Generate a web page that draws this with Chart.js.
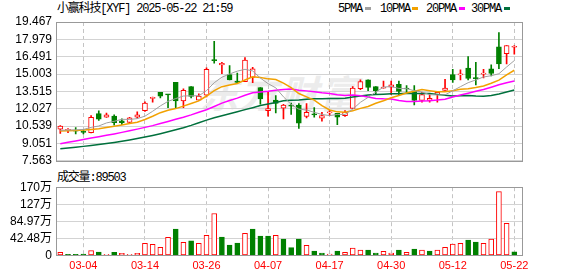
<!DOCTYPE html>
<html>
<head>
<meta charset="utf-8">
<script src="https://cdn.jsdelivr.net/npm/chart.js@4.4.1/dist/chart.umd.min.js"></script>
<style>
body { margin: 0; width: 578px; height: 276px; background: #fff; position: relative; overflow: hidden; }
canvas { position: absolute; left: 0; }
.txt { position: absolute; font: 12px 'Liberation Mono', 'Noto Sans CJK SC', monospace; letter-spacing: -1.2px; color: #000; white-space: nowrap; line-height: 14px; }
.dash { position: absolute; width: 6px; height: 3px; top: 7px; }
#mark { position: absolute; left: 200px; top: 64px; font: italic bold 38px 'Noto Sans CJK SC'; color: #ececec; letter-spacing: 2px; white-space: nowrap; }
</style>
</head>
<body>
<div id="mark">东方财富</div>
<div class="txt" style="left:57px;top:2px">小赢科技[XYF] 2025-05-22 21:59</div>
<div class="txt" style="left:338px;top:2px">5PMA</div><div class="dash" style="left:365px;background:#a0a0a0"></div>
<div class="txt" style="left:380px;top:2px">10PMA</div><div class="dash" style="left:412px;background:#f2a100"></div>
<div class="txt" style="left:426px;top:2px">20PMA</div><div class="dash" style="left:459px;background:#ff00ff"></div>
<div class="txt" style="left:471px;top:2px">30PMA</div><div class="dash" style="left:504px;background:#00703c"></div>
<div class="txt" style="left:57px;top:171px">成交量:89503</div>
<canvas id="price" width="578" height="172" style="top:0"></canvas>
<canvas id="vol" width="578" height="100" style="top:176px"></canvas>
<script>
// trading days (MM-DD)
var dates = ['02-27','02-28','03-03','03-04','03-05','03-06','03-07','03-10','03-11','03-12',
  '03-13','03-14','03-17','03-18','03-19','03-20','03-21','03-24','03-25','03-26',
  '03-27','03-28','03-31','04-01','04-02','04-03','04-04','04-07','04-08','04-09',
  '04-10','04-11','04-14','04-15','04-16','04-17','04-21','04-22','04-23','04-24',
  '04-25','04-28','04-29','04-30','05-01','05-02','05-05','05-06','05-07','05-08',
  '05-09','05-12','05-13','05-14','05-15','05-16','05-19','05-20','05-21','05-22'];

var openP = [10.28,10.18,10.12,10.03,9.97,11.61,11.30,11.39,11.00,10.86,
  11.30,11.86,12.92,13.43,13.24,14.29,12.69,13.93,12.77,13.19,
  16.22,15.79,14.96,14.40,14.35,14.71,13.85,11.86,12.77,12.08,
  12.30,12.35,11.36,11.56,11.22,11.68,11.63,11.44,12.05,13.74,
  14.51,13.93,13.79,13.88,14.13,13.75,13.57,12.74,12.74,13.24,
  13.60,14.96,14.93,15.51,14.70,15.00,15.46,17.34,16.76,17.30];
var highP = [10.58,10.33,10.42,10.20,11.44,11.85,11.66,11.50,11.16,11.30,
  11.77,12.63,13.02,13.43,13.26,14.29,13.74,13.93,13.30,15.54,
  17.81,16.01,15.73,15.09,16.42,15.59,13.85,13.46,13.16,12.40,
  12.52,12.47,12.47,12.13,11.72,11.90,11.63,11.86,13.93,14.51,
  14.51,13.93,14.40,14.40,14.40,14.02,14.02,13.43,13.24,13.43,
  14.54,15.40,15.37,16.51,16.01,15.40,15.79,18.56,17.45,17.45];
var lowP = [9.92,9.97,9.86,9.86,9.95,11.03,11.28,10.61,10.67,10.75,
  11.22,11.80,12.60,12.96,12.13,12.05,12.13,12.96,12.77,13.05,
  15.93,15.04,14.49,14.27,14.35,14.27,12.41,11.39,11.66,11.16,
  11.53,10.33,11.25,11.30,10.97,11.44,10.67,11.36,12.05,13.66,
  13.57,13.24,13.79,13.24,13.24,13.43,12.35,12.60,12.60,12.60,
  13.60,14.29,14.49,14.49,14.07,14.68,14.85,15.46,15.87,16.70];
var closeP = [10.53,10.22,10.10,10.00,11.30,11.14,11.50,10.83,10.84,11.25,
  11.50,12.52,12.97,13.10,13.22,12.69,13.60,13.08,13.12,15.40,
  16.16,15.93,14.49,14.29,16.20,15.46,12.88,12.05,12.49,12.35,
  12.25,10.80,11.72,11.50,11.44,11.72,11.30,11.72,13.79,14.35,
  13.85,13.57,13.85,14.07,13.52,13.72,12.74,13.24,12.91,13.43,
  13.79,14.49,14.98,14.63,14.60,15.02,15.05,15.87,17.45,17.36];
var volume = [75000,25000,25000,33000,116000,83000,25000,75000,50000,25000,
  50000,298000,273000,199000,447000,654000,323000,364000,298000,497000,
  1043000,455000,257000,306000,547000,654000,480000,480000,497000,406000,
  190000,406000,248000,108000,58000,33000,108000,75000,182000,133000,
  133000,58000,99000,58000,133000,75000,157000,133000,108000,133000,
  199000,282000,298000,381000,331000,298000,406000,1590000,795000,89503];

var ma5 = [10.18,10.20,10.22,10.25,10.43,10.55,10.81,10.95,11.12,11.11,
  11.18,11.39,11.81,12.27,12.66,12.90,13.12,13.14,13.14,13.58,
  14.26,14.73,15.01,15.25,15.41,15.27,14.66,14.18,13.82,13.05,
  12.40,11.99,11.92,11.72,11.54,11.44,11.54,11.54,11.99,12.58,
  13.00,13.46,13.88,13.94,13.77,13.75,13.58,13.46,13.23,13.21,
  13.22,13.57,13.92,14.26,14.50,14.75,14.86,15.03,15.61,16.16];
var ma10 = [10.11,10.13,10.16,10.20,10.25,10.31,10.42,10.52,10.64,10.77,
  10.87,11.10,11.38,11.69,11.89,12.04,12.25,12.48,12.70,13.12,
  13.58,13.92,14.07,14.19,14.49,14.77,14.70,14.59,14.54,14.23,
  13.84,13.33,13.05,12.77,12.29,11.92,11.76,11.73,11.86,12.06,
  12.22,12.50,12.71,12.97,13.17,13.37,13.52,13.67,13.58,13.49,
  13.48,13.58,13.69,13.75,13.85,13.98,14.21,14.48,14.93,15.33];
var ma20 = [9.03,9.15,9.27,9.39,9.52,9.63,9.75,9.87,10.00,10.14,
  10.28,10.43,10.58,10.76,10.94,11.12,11.30,11.50,11.72,11.94,
  12.22,12.51,12.73,12.94,13.19,13.40,13.47,13.53,13.62,13.67,
  13.71,13.62,13.56,13.48,13.39,13.34,13.23,13.16,13.20,13.14,
  13.03,12.91,12.88,12.87,12.73,12.65,12.64,12.70,12.72,12.77,
  12.85,13.04,13.20,13.36,13.52,13.67,13.87,14.08,14.26,14.41];
var ma30 = [8.59,8.66,8.73,8.80,8.88,8.96,9.05,9.14,9.24,9.35,
  9.47,9.60,9.74,9.89,10.05,10.22,10.40,10.60,10.82,11.05,
  11.25,11.43,11.60,11.77,11.95,12.12,12.30,12.44,12.57,12.71,
  12.76,12.78,12.84,12.89,12.89,12.91,12.90,12.93,13.03,13.13,
  13.21,13.25,13.28,13.31,13.32,13.35,13.33,13.33,13.33,13.26,
  13.18,13.13,13.15,13.16,13.11,13.10,13.17,13.30,13.46,13.63];

var priceTicks = [7.563, 9.051, 10.539, 12.027, 13.515, 15.003, 16.491, 17.979, 19.467];
var volTicks = [0, 424850, 849700, 1274550, 1699400];
var volTickLabels = ['0', '42.48万', '84.97万', '127万', '170万'];
var labelIdx = [3, 11, 19, 27, 35, 43, 51, 59];

var RED = '#ff0000', GREEN = '#008000';
var idx = dates.map(function (d, i) { return i; });
var up = idx.map(function (i) { return closeP[i] >= openP[i]; });
// volume colour follows the change from the previous close
var volUp = idx.map(function (i) { return i === 0 ? up[0] : closeP[i] >= closeP[i - 1]; });

function pts(arr) { return idx.map(function (i) { return { x: i, y: arr[i] }; }); }
function maLine(arr, color, w) {
  return { type: 'line', data: pts(arr), borderColor: color, borderWidth: w, pointRadius: 0, tension: 0, order: 0 };
}

var frame = {
  id: 'frame',
  afterDraw: function (c) {
    var a = c.chartArea, ctx = c.ctx;
    ctx.save();
    ctx.strokeStyle = '#999';
    ctx.lineWidth = 1;
    ctx.strokeRect(Math.floor(a.left) + 0.5, Math.floor(a.top) + 0.5,
      Math.round(a.right - a.left), Math.round(a.bottom - a.top));
    ctx.restore();
  }
};

function xScale(showLabels) {
  return {
    type: 'linear', min: -0.56, max: 60, offset: false,
    afterBuildTicks: function (a) { a.ticks = labelIdx.map(function (v) { return { value: v }; }); },
    afterFit: function (a) { a.height = showLabels ? 20.7 : 0; },
    ticks: {
      display: showLabels, autoSkip: false, maxRotation: 0, padding: 4, color: RED,
      font: { family: 'Liberation Sans', size: 11 },
      callback: function (v) { return dates[v] || ''; }
    },
    grid: { offset: false, color: '#c4c4c4', drawTicks: false },
    border: { display: false, dash: [4, 3] }
  };
}

var yFont = { family: "'Liberation Sans', 'Noto Sans CJK SC'", size: 12 };

new Chart(document.getElementById('price'), {
  type: 'bar',
  data: {
    datasets: [
      maLine(ma5, '#a0a0a0', 1),
      maLine(ma10, '#f2a100', 1.5),
      maLine(ma20, '#ff00ff', 1.5),
      maLine(ma30, '#00703c', 1.5),
      {
        data: idx.map(function (i) { return { x: i, y: [openP[i], closeP[i]] }; }),
        backgroundColor: up.map(function (u) { return u ? '#fff' : GREEN; }),
        borderColor: up.map(function (u) { return u ? RED : GREEN; }),
        borderWidth: 1, borderSkipped: false, barThickness: 5, grouped: false, minBarLength: 1, order: 5
      },
      {
        data: idx.map(function (i) { return { x: i, y: [lowP[i], highP[i]] }; }),
        backgroundColor: up.map(function (u) { return u ? RED : GREEN; }),
        borderWidth: 0, barThickness: 1, grouped: false, order: 6
      }
    ]
  },
  options: {
    responsive: false, animation: false, devicePixelRatio: 1,
    layout: { padding: { top: 22, right: 56, bottom: 7, left: 0 } },
    plugins: { legend: { display: false }, tooltip: { enabled: false } },
    scales: {
      x: xScale(false),
      y: {
        min: 7.563, max: 19.467,
        afterBuildTicks: function (a) { a.ticks = priceTicks.map(function (v) { return { value: v }; }); },
        afterFit: function (a) { a.width = 56; },
        ticks: { color: '#000', padding: 4, autoSkip: false, font: yFont, callback: function (v) { return v.toFixed(3); } },
        grid: { color: '#d3d3d3', drawTicks: false },
        border: { display: false }
      }
    }
  },
  plugins: [frame]
});

new Chart(document.getElementById('vol'), {
  type: 'bar',
  data: {
    datasets: [{
      data: idx.map(function (i) { return { x: i, y: volume[i] }; }),
      backgroundColor: volUp.map(function (u) { return u ? '#fff' : GREEN; }),
      borderColor: volUp.map(function (u) { return u ? RED : GREEN; }),
      borderWidth: 1, borderSkipped: false, barThickness: 5, grouped: false
    }]
  },
  options: {
    responsive: false, animation: false, devicePixelRatio: 1,
    layout: { padding: { top: 10.7, right: 56, bottom: 0, left: 0 } },
    plugins: { legend: { display: false }, tooltip: { enabled: false } },
    scales: {
      x: xScale(true),
      y: {
        min: 0, max: 1699400,
        afterBuildTicks: function (a) { a.ticks = volTicks.map(function (v) { return { value: v }; }); },
        afterFit: function (a) { a.width = 56; },
        ticks: { color: '#000', padding: 4, autoSkip: false, font: yFont, callback: function (v, i) { return volTickLabels[i]; } },
        grid: { color: '#d3d3d3', drawTicks: false },
        border: { display: false }
      }
    }
  },
  plugins: [frame]
});
</script>
</body>
</html>
